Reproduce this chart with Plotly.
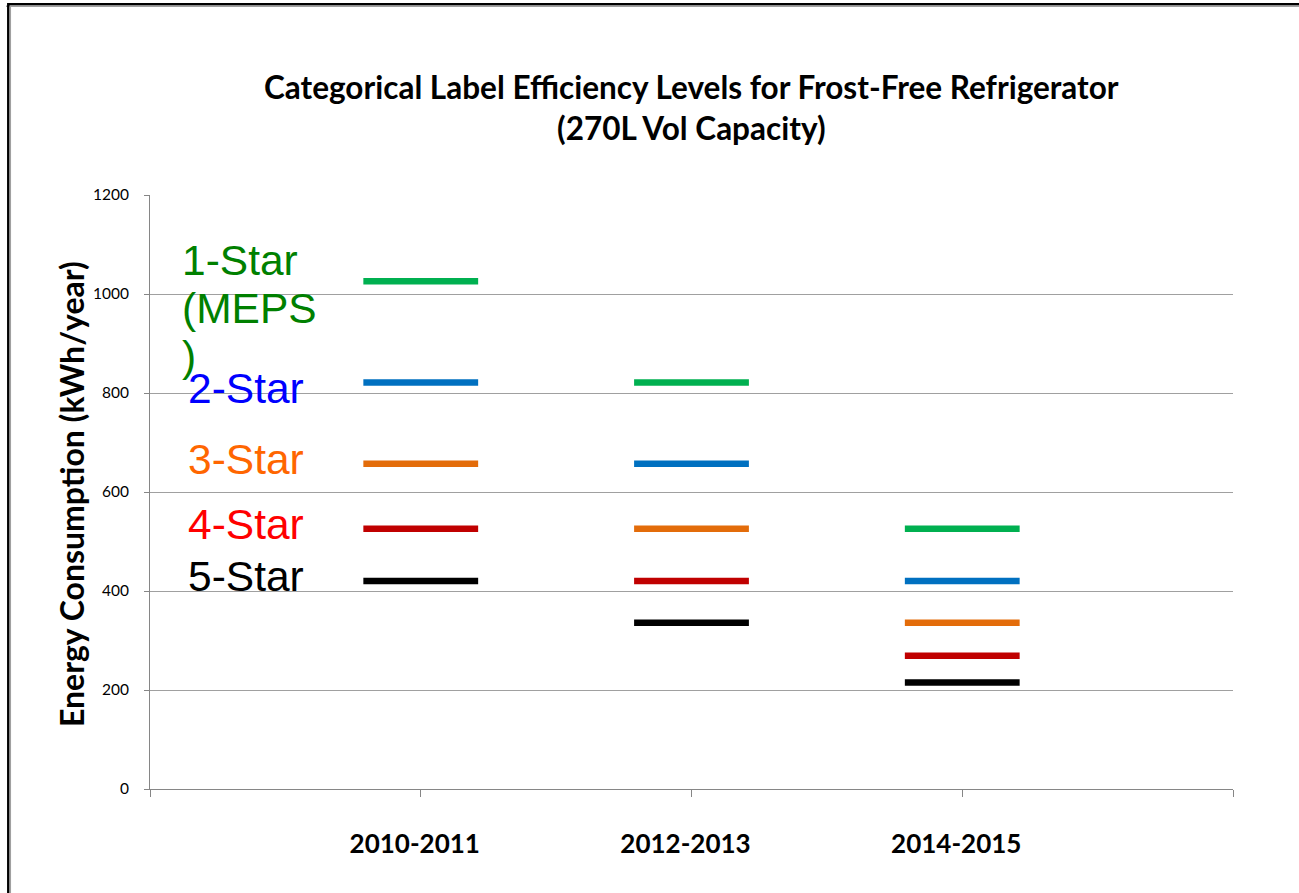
import plotly.graph_objects as go

# ---- data ----
periods = ["2010-2011", "2012-2013", "2014-2015"]
star_names = ["1-Star (MEPS)", "2-Star", "3-Star", "4-Star", "5-Star"]
one_star = [1026, 821, 526]
two_star = [821, 657, 420]
three_star = [657, 526, 336]
four_star = [526, 420, 269]
five_star = [420, 336, 215]
y_ticks = [0, 200, 400, 600, 800, 1000, 1200]

series = [one_star, two_star, three_star, four_star, five_star]
line_colors = ["#00B050", "#0070C0", "#E36C0A", "#C00000", "#000000"]

HALF = 0.212  # half width of each dash in category units

fig = go.Figure()
for name, vals, col in zip(star_names, series, line_colors):
    xs, ys = [], []
    for i, v in enumerate(vals):
        c = i + 1
        xs += [c - HALF, c + HALF, None]
        ys += [v, v, None]
    fig.add_trace(go.Scatter(x=xs, y=ys, mode="lines", name=name,
                             line=dict(color=col, width=6.5), showlegend=False,
                             hoverinfo="skip"))

# ---- geometry helpers (pixel -> paper) ----
L, R, T, B = 150, 66, 195, 104
W, H = 1299, 893
PW, PH = W - L - R, H - T - B


def px(x):
    return (x - L) / PW


def py(y):
    return (T + PH - y) / PH


annotations = []
# title lines
title_font = dict(family="Lato", size=31.5, color="#000000", weight="bold")
annotations.append(dict(text="Categorical Label Efficiency Levels for Frost-Free Refrigerator",
                        x=0.5, y=py(87), xref="paper", yref="paper",
                        xanchor="center", yanchor="middle", showarrow=False, font=title_font))
annotations.append(dict(text="(270L Vol Capacity)",
                        x=0.5, y=py(128), xref="paper", yref="paper",
                        xanchor="center", yanchor="middle", showarrow=False, font=title_font))
# y-axis title
annotations.append(dict(text="Energy Consumption (kWh/year)",
                        x=px(71), y=py(494), xref="paper", yref="paper",
                        xanchor="center", yanchor="middle", textangle=-90,
                        showarrow=False,
                        font=dict(family="Lato", size=32, color="#000000", weight="bold")))

# star labels
lab_font = "Liberation Sans"
lab_specs = [
    ("1-Star", "#008000", 180, 260),
    ("(MEPS", "#008000", 180, 308),
    (")", "#008000", 180, 356),
    ("2-Star", "#0000FF", 186, 388),
    ("3-Star", "#FF6600", 186, 459),
    ("4-Star", "#FF0000", 186, 524),
    ("5-Star", "#000000", 186, 576),
]
for t, c, x0, yc in lab_specs:
    annotations.append(dict(text=t, x=px(x0), y=py(yc), xref="paper", yref="paper",
                            xanchor="left", yanchor="middle", showarrow=False,
                            font=dict(family=lab_font, size=42.5, color=c)))

# outer frame
shapes = [
    dict(type="line", xref="paper", yref="paper", x0=px(8), x1=px(1300), y0=py(4.3), y1=py(4.3),
         line=dict(color="#000000", width=2.5)),
    dict(type="line", xref="paper", yref="paper", x0=px(6), x1=px(1300), y0=py(6.3), y1=py(6.3),
         line=dict(color="#A0A0A0", width=1.5)),
    dict(type="line", xref="paper", yref="paper", x0=px(8.3), x1=px(8.3), y0=py(3), y1=py(900),
         line=dict(color="#000000", width=2.5)),
    dict(type="line", xref="paper", yref="paper", x0=px(10.3), x1=px(10.3), y0=py(6), y1=py(900),
         line=dict(color="#A0A0A0", width=1.5)),
]

fig.update_layout(
    width=W, height=H,
    margin=dict(l=L, r=R, t=T, b=B, pad=0),
    paper_bgcolor="white", plot_bgcolor="white",
    showlegend=False,
    annotations=annotations,
    shapes=shapes,
    xaxis=dict(range=[0, 4], tickmode="array", tickvals=[0, 1, 2, 3, 4],
               ticktext=[""] + periods + [""], ticks="outside", ticklen=7,
               tickcolor="#868686", showgrid=False, zeroline=False,
               showline=True, linecolor="#868686", linewidth=1,
               tickfont=dict(family="Lato", size=26, color="#000000", weight="bold"),
               ticklabelstandoff=25, ticklabelshift=-6, fixedrange=True),
    yaxis=dict(range=[0, 1200], tickmode="array", tickvals=y_ticks,
               ticks="outside", ticklen=5, tickcolor="#868686",
               showgrid=True, gridcolor="#A0A0A0", gridwidth=1, zeroline=False,
               showline=True, linecolor="#868686", linewidth=1,
               tickfont=dict(family="Lato", size=15.5, color="#000000"),
               ticklabelstandoff=12, fixedrange=True),
)

fig.write_html("out.html", config={"displayModeBar": False},
               post_script="document.body.style.margin='0';")
